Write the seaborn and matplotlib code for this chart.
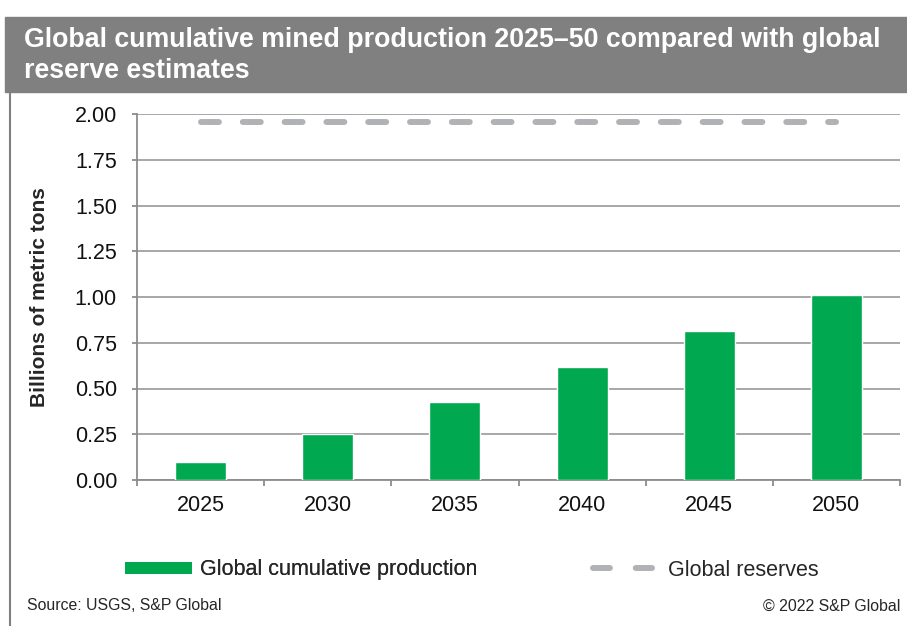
import matplotlib
matplotlib.use("Agg")
import matplotlib.pyplot as plt
from matplotlib.patches import Rectangle, Patch
from matplotlib.lines import Line2D
import seaborn as sns
import pandas as pd

years = ["2025", "2030", "2035", "2040", "2045", "2050"]
production = [0.098, 0.251, 0.426, 0.617, 0.813, 1.011]
reserves = [1.956, 1.956, 1.956, 1.956, 1.956, 1.956]
yticks = [0.00, 0.25, 0.50, 0.75, 1.00, 1.25, 1.50, 1.75, 2.00]

title = "Global cumulative mined production 2025\u201350 compared with global\nreserve estimates"
ylabel = "Billions of metric tons"
prod_label = "Global cumulative production"
res_label = "Global reserves"
source = "Source: USGS, S&P Global"
copyright_txt = "\u00a9 2022 S&P Global"

GREEN = "#00A94F"
BAND = "#808080"
DASH = "#B1B2B5"
GRID = "#A0A0A0"
AXIS = "#8C8C8C"

sns.set_theme(style="white")
plt.rcParams["font.family"] = ["Liberation Sans", "DejaVu Sans"]

df = pd.DataFrame({"year": years, "production": production, "reserves": reserves})

W, H = 907, 626
fig = plt.figure(figsize=(W / 100, H / 100), dpi=100)
ax = fig.add_axes([137 / W, 1 - 480 / H, (900 - 137) / W, (480 - 114) / H])

sns.barplot(data=df, x="year", y="production", color=GREEN, width=0.4,
            saturation=1, ax=ax, zorder=3)
sns.lineplot(data=df, x="year", y="reserves", ax=ax, color=DASH, lw=4.3,
             zorder=4, sort=False)
line = ax.lines[-1]
line.set_dashes([3.0, 4.0])
line.set_dash_capstyle("round")

ax.set_xlim(-0.5, 5.5)
ax.set_ylim(0, 2.0)
ax.set_yticks(yticks)
ax.set_yticklabels([f"{v:.2f}" for v in yticks])
ax.yaxis.grid(True, color=GRID, lw=1.3, zorder=0)
ax.set_axisbelow(True)
for s in ["top", "right"]:
    ax.spines[s].set_visible(False)
for s in ["left", "bottom"]:
    ax.spines[s].set_color(AXIS)
    ax.spines[s].set_linewidth(1.3)
ax.set_xticks([i - 0.5 for i in range(len(years) + 1)], minor=True)
ax.tick_params(axis="x", which="major", length=0, labelsize=15.5, pad=10.5,
               labelcolor="#111111")
ax.tick_params(axis="x", which="minor", length=4, width=1.3, color=AXIS,
               direction="out", bottom=True)
ax.tick_params(axis="y", length=3.6, width=1.3, color=AXIS, labelsize=15.5,
               left=True, labelcolor="#111111", pad=10.8)
ax.set_xlabel("")
ax.set_ylabel("")

# title band
fig.patches.append(Rectangle((5 / W, 1 - 92 / H), 1 - 5 / W, 75 / H,
                             transform=fig.transFigure, color=BAND, zorder=0))
fig.lines.append(Line2D([10 / W, 10 / W], [0, 1 - 92 / H],
                        transform=fig.transFigure, color=BAND, lw=1.5))
fig.text(24 / W, 1 - 55.5 / H, title, color="white", fontsize=19.3,
         fontweight="bold", va="center", ha="left", linespacing=1.22)

fig.text(40 / W, 1 - 297 / H, ylabel, rotation=90, fontsize=15,
         fontweight="bold", va="center", ha="center")

# legends
h1 = Patch(facecolor=GREEN, edgecolor="none")
leg1 = fig.legend([h1], [prod_label], loc="center left",
                  bbox_to_anchor=(105.6 / W, 1 - 570 / H), frameon=False,
                  fontsize=15.5, handlelength=3.1, handleheight=0.51,
                  handletextpad=0.37)
h2 = Line2D([], [], color=DASH, lw=4.3, dash_capstyle="round",
            dashes=[2.83, 4.33])
leg2 = fig.legend([h2], [res_label], loc="center left",
                  bbox_to_anchor=(573.6 / W, 1 - 570 / H), frameon=False,
                  fontsize=15.5, handlelength=2.75, handletextpad=0.74)
fig.add_artist(leg1)

fig.text(27 / W, 1 - 606 / H, source, fontsize=11.4, va="center", ha="left")
fig.text(900 / W, 1 - 606 / H, copyright_txt, fontsize=11.4, va="center",
         ha="right")

fig.savefig("out.png", dpi=100)
